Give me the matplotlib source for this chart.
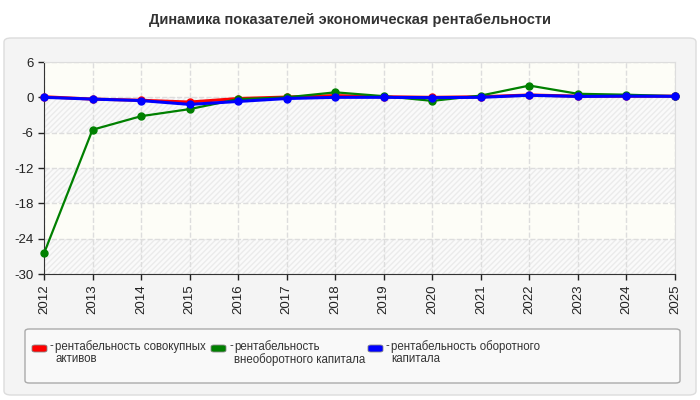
import matplotlib

matplotlib.use("Agg")
import matplotlib.pyplot as plt
from matplotlib.patches import FancyBboxPatch, Rectangle

plt.rcParams["font.family"] = ["Liberation Sans", "DejaVu Sans"]

YEARS = list(range(2012, 2026))
ASSETS = [0.1, -0.3, -0.5, -0.8, -0.2, 0.05, 0.3, 0.1, 0.0, 0.1, 0.4, 0.2, 0.2, 0.2]
NONCURRENT = [-26.5, -5.5, -3.2, -2.0, -0.3, 0.0, 0.85, 0.2, -0.6, 0.3, 2.0, 0.6, 0.45, 0.2]
CURRENT = [0.0, -0.3, -0.55, -1.2, -0.7, -0.2, 0.0, 0.0, -0.05, 0.0, 0.35, 0.15, 0.2, 0.17]
LABELS = ["рентабельность совокупных\nактивов",
          "рентабельность\nвнеоборотного капитала",
          "рентабельность оборотного\nкапитала"]
COLORS = ["#ff0000", "#008000", "#0000ff"]
YTICKS = [6, 0, -6, -12, -18, -24, -30]
TITLE = "Динамика показателей экономическая рентабельности"

W, H = 700, 400
fig = plt.figure(figsize=(7, 4), dpi=100)
fig.patch.set_facecolor("white")


def fx(px):
    return px / W


def fy(py):
    return 1 - py / H


# outer panel
fig.patches.append(FancyBboxPatch((fx(4), fy(395)), fx(692), 357 / H,
                                  boxstyle="round,pad=0,rounding_size=0.01",
                                  transform=fig.transFigure, facecolor="#f4f4f4",
                                  edgecolor="#dcdcdc", lw=1, zorder=-2))
fig.text(0.5, fy(20), TITLE, ha="center", va="center", fontsize=10.5,
         fontweight="bold", color="#333333")

ax = fig.add_axes([fx(44), fy(274), fx(675 - 44), (274 - 62) / H])
ax.set_zorder(2)
ax.set_facecolor("#fdfdf7")
# alternating hatched bands (bottom band hatched)
for i, (hi, lo) in enumerate(zip(YTICKS[:-1], YTICKS[1:])):
    if i % 2 == 1:
        ax.add_patch(Rectangle((YEARS[0], lo), YEARS[-1] - YEARS[0], hi - lo,
                               facecolor="#fafafa", edgecolor="#ebebeb", hatch="//////",
                               lw=0, zorder=0))

for vals, c, lw in zip([ASSETS, NONCURRENT, CURRENT], COLORS, [2.2, 1.6, 2.2]):
    ax.plot(YEARS, vals, color=c, lw=lw, marker="o", ms=5, zorder=3, clip_on=False)

ax.set_xlim(YEARS[0], YEARS[-1])
ax.set_ylim(-30, 6)
ax.set_yticks(YTICKS)
ax.set_yticklabels([str(t) for t in YTICKS])
ax.set_xticks(YEARS)
ax.set_xticklabels([str(y) for y in YEARS], rotation=90)
ax.tick_params(labelsize=9.5, colors="#222222", length=4, width=1)
ax.grid(True, color="#dddddd", ls="--", lw=1)
ax.set_axisbelow(True)
for s in ["top", "right"]:
    ax.spines[s].set_color("#dddddd")
for s in ["left", "bottom"]:
    ax.spines[s].set_color("#333333")

# legend box
fig.patches.append(FancyBboxPatch((fx(25), fy(383)), fx(655), 54 / H,
                                  boxstyle="round,pad=0,rounding_size=0.006",
                                  transform=fig.transFigure, facecolor="#f9f9f9",
                                  edgecolor="#aaaaaa", lw=1, zorder=1))
for x0, lab, c in zip([32, 211, 368], LABELS, COLORS):
    fig.patches.append(FancyBboxPatch((fx(x0), fy(352)), fx(15), 7 / H,
                                      boxstyle="round,pad=0,rounding_size=0.004",
                                      transform=fig.transFigure, facecolor=c,
                                      edgecolor="#888888", lw=0.6, zorder=2))
    fig.text(fx(x0 + 18), fy(340), "-", ha="left", va="top", fontsize=8.3,
             color="#333333", zorder=3)
    fig.text(fx(x0 + 23), fy(340), lab, ha="left", va="top", fontsize=8.3,
             color="#333333", linespacing=1.05, zorder=3)

fig.savefig("out.png", dpi=100)
